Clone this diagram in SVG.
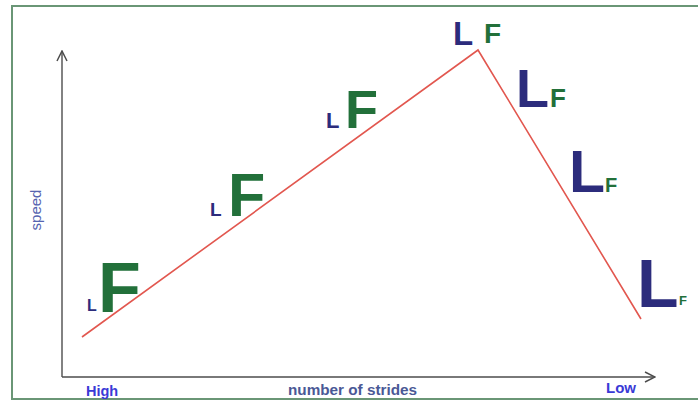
<svg xmlns="http://www.w3.org/2000/svg" width="698" height="402" viewBox="0 0 698 402">
<defs>
<style>
.L{font-family:"Liberation Sans",Arial,sans-serif;font-weight:bold;fill:#2c2c7c}
.F{font-family:"Liberation Sans",Arial,sans-serif;font-weight:bold;fill:#22703a}
.lab{font-family:"Liberation Sans",Arial,sans-serif;font-weight:bold}
.axis{stroke:#4d4d4d;stroke-width:1.4;fill:none}
</style>
<marker id="arr" viewBox="0 0 12 12" refX="11" refY="6" markerWidth="12" markerHeight="12" markerUnits="userSpaceOnUse" orient="auto">
<path d="M1,1 L11,6 L1,11" fill="none" stroke="#4d4d4d" stroke-width="1.5"/>
</marker>
</defs>
<rect width="698" height="402" fill="#ffffff"/>
<path d="M700,6 H12 V399 H700" fill="none" stroke="#6a9676" stroke-width="2"/>
<g id="connectors">
<line class="axis" x1="62" y1="377" x2="62" y2="51" marker-end="url(#arr)"/>
<line class="axis" x1="62" y1="377" x2="655" y2="377" marker-end="url(#arr)"/>
<polyline points="82,337 478,50 641,319" fill="none" stroke="#e2574f" stroke-width="1.6"/>
</g>
<g id="n1"><text class="L" x="87" y="311" font-size="16">L</text><text class="F" x="98" y="312" font-size="70">F</text></g>
<g id="n2"><text class="L" x="210" y="216" font-size="19">L</text><text class="F" x="228" y="216" font-size="61">F</text></g>
<g id="n3"><text class="L" x="326" y="128" font-size="22">L</text><text class="F" x="345" y="128" font-size="54">F</text></g>
<g id="n4"><text class="L" x="453" y="45" font-size="33">L</text><text class="F" x="484" y="43" font-size="28">F</text></g>
<g id="n5"><text class="L" x="516" y="107" font-size="54">L</text><text class="F" x="550" y="107" font-size="26">F</text></g>
<g id="n6"><text class="L" x="569" y="192" font-size="59">L</text><text class="F" x="605" y="192" font-size="20">F</text></g>
<g id="n7"><text class="L" x="637" y="307" font-size="68">L</text><text class="F" x="679" y="305" font-size="13">F</text></g>
<text class="lab" x="86" y="396" font-size="14.5" fill="#3a3ad6">High</text>
<text class="lab" x="288" y="395" font-size="14" fill="#4a5896" textLength="129" lengthAdjust="spacingAndGlyphs">number of strides</text>
<text class="lab" x="606" y="393" font-size="15" fill="#3a3ad6">Low</text>
<text x="41" y="210" font-family="'Liberation Sans',Arial,sans-serif" font-size="15" fill="#5664b0" text-anchor="middle" transform="rotate(-90 41 210)">speed</text>
</svg>
